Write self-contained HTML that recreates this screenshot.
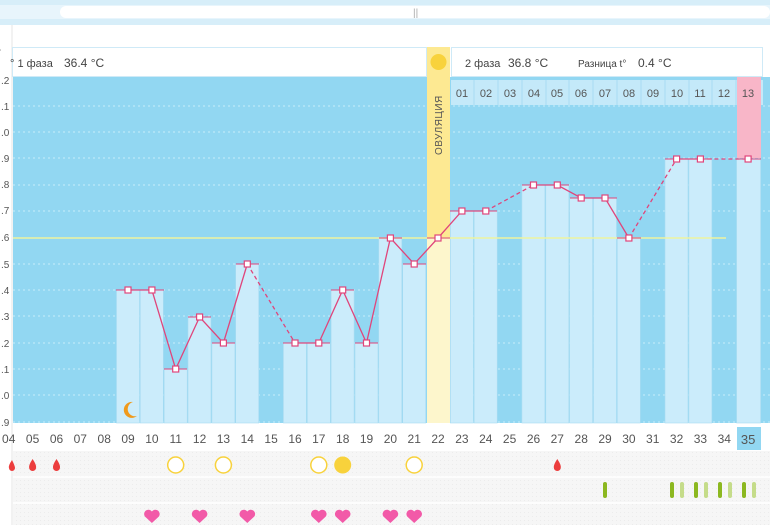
<!DOCTYPE html>
<html><head><meta charset="utf-8"><style>
body{margin:0;width:770px;height:525px;overflow:hidden;background:#fff;font-family:"Liberation Sans","DejaVu Sans",sans-serif}
svg text{font-family:"Liberation Sans","DejaVu Sans",sans-serif}
</style></head><body>
<svg width="770" height="525" xmlns="http://www.w3.org/2000/svg">
<defs>
<pattern id="gr" width="4" height="4" patternUnits="userSpaceOnUse"><rect width="4" height="4" fill="#f6f6f6"/><rect width="1" height="1" fill="#ececec"/></pattern>
</defs>
<!-- top scrollbar area -->
<rect x="0" y="0" width="770" height="25" fill="#d7eef9"/>
<rect x="0" y="5" width="770" height="14" fill="#e8f5fc"/>
<rect x="60" y="6" width="710" height="12" rx="6" fill="#fff"/>
<text x="413" y="16" font-size="10" fill="#aaa">||</text>
<rect x="0" y="25" width="12" height="500" fill="#fff"/>
<line x1="12" y1="25" x2="12" y2="525" stroke="#e4e4e4" stroke-width="1"/>
<!-- header boxes -->
<rect x="12.5" y="47.5" width="414" height="29" fill="#fff" stroke="#cfeaf7"/>
<text x="10" y="67" font-size="11" fill="#444">° 1 фаза</text>
<text x="64" y="67" font-size="12" fill="#444">36.4 °C</text>
<rect x="451.5" y="47.5" width="311" height="29" fill="#fff" stroke="#cfeaf7"/>
<text x="465" y="67" font-size="11" fill="#444">2 фаза</text>
<text x="508" y="67" font-size="12" fill="#444">36.8 °C</text>
<text x="578" y="67" font-size="10" fill="#444">Разница t°</text>
<text x="638" y="67" font-size="12" fill="#444">0.4 °C</text>
<!-- chart bg -->
<rect x="13" y="77" width="757" height="346" fill="#92d7f2"/>
<g stroke="#c8ecfa" stroke-width="1" stroke-dasharray="2,3">
<line x1="13" x2="770" y1="106" y2="106"/><line x1="13" x2="770" y1="132" y2="132"/><line x1="13" x2="770" y1="158" y2="158"/><line x1="13" x2="770" y1="185" y2="185"/><line x1="13" x2="770" y1="211" y2="211"/><line x1="13" x2="770" y1="264" y2="264"/><line x1="13" x2="770" y1="290" y2="290"/><line x1="13" x2="770" y1="316" y2="316"/><line x1="13" x2="770" y1="343" y2="343"/><line x1="13" x2="770" y1="369" y2="369"/><line x1="13" x2="770" y1="395" y2="395"/><line x1="13" x2="770" y1="422" y2="422"/>
</g>
<!-- y labels -->
<g font-size="10" fill="#555">
<text x="-3" y="56">°</text>
<text x="1" y="84">.2</text><text x="1" y="110">.1</text><text x="1" y="136">.0</text><text x="1" y="162">.9</text><text x="1" y="188">.8</text><text x="1" y="214">.7</text><text x="1" y="241">.6</text><text x="1" y="268">.5</text><text x="1" y="294">.4</text><text x="1" y="320">.3</text><text x="1" y="347">.2</text><text x="1" y="373">.1</text><text x="1" y="399">.0</text><text x="1" y="426">.9</text>
</g>
<!-- pink col 35 -->
<rect x="737" y="77" width="24" height="81" fill="#f8b6c8"/>
<!-- bars -->
<g fill="#cbecfb" stroke="#a9dcf2" stroke-width="0.6">
<rect x="116.5" y="290" width="23" height="133"/>
<rect x="140.3" y="290" width="23" height="133"/>
<rect x="164.2" y="369" width="23" height="54"/>
<rect x="188" y="317" width="23" height="106"/>
<rect x="211.9" y="343" width="23" height="80"/>
<rect x="235.7" y="264" width="23" height="159"/>
<rect x="283.4" y="343" width="23" height="80"/>
<rect x="307.3" y="343" width="23" height="80"/>
<rect x="331.1" y="290" width="23" height="133"/>
<rect x="355" y="343" width="23" height="80"/>
<rect x="378.8" y="238" width="23" height="185"/>
<rect x="402.7" y="264" width="23" height="159"/>
<rect x="450.4" y="211" width="23" height="212"/>
<rect x="474.2" y="211" width="23" height="212"/>
<rect x="521.9" y="185" width="23" height="238"/>
<rect x="545.8" y="185" width="23" height="238"/>
<rect x="569.6" y="198" width="23" height="225"/>
<rect x="593.5" y="198" width="23" height="225"/>
<rect x="617.3" y="238" width="23" height="185"/>
<rect x="665" y="159" width="23" height="264"/>
<rect x="688.9" y="159" width="23" height="264"/>
<rect x="736.6" y="159" width="24" height="264"/>
</g>
<!-- phase2 day numbers -->
<g>
<rect x="451" y="80" width="312" height="25" fill="#c4e9f9"/>
<g stroke="#a9dcf2"><line x1="474" x2="474" y1="80" y2="105"/><line x1="498" x2="498" y1="80" y2="105"/><line x1="522" x2="522" y1="80" y2="105"/><line x1="546" x2="546" y1="80" y2="105"/><line x1="569" x2="569" y1="80" y2="105"/><line x1="593" x2="593" y1="80" y2="105"/><line x1="617" x2="617" y1="80" y2="105"/><line x1="641" x2="641" y1="80" y2="105"/><line x1="665" x2="665" y1="80" y2="105"/><line x1="689" x2="689" y1="80" y2="105"/><line x1="712" x2="712" y1="80" y2="105"/><line x1="736" x2="736" y1="80" y2="105"/></g>
<rect x="737" y="80" width="24" height="25" fill="#f8b6c8"/>
<g font-size="11" fill="#555" text-anchor="middle">
<text x="462" y="97">01</text><text x="486" y="97">02</text><text x="510" y="97">03</text><text x="534" y="97">04</text><text x="557" y="97">05</text><text x="581" y="97">06</text><text x="605" y="97">07</text><text x="629" y="97">08</text><text x="653" y="97">09</text><text x="677" y="97">10</text><text x="700" y="97">11</text><text x="724" y="97">12</text><text x="748" y="97">13</text>
</g></g>
<!-- ovulation column -->
<rect x="427" y="47" width="23" height="191" fill="#fde992"/>
<rect x="427" y="238" width="23" height="185" fill="#fdf6cc"/>
<circle cx="438.5" cy="62" r="8" fill="#f8d23c"/>
<text transform="translate(442,155) rotate(-90)" font-size="10" fill="#555" letter-spacing="0.5">ОВУЛЯЦИЯ</text>
<!-- coverline -->
<line x1="13" x2="726" y1="238" y2="238" stroke="#eef3a0" stroke-width="1.5"/>
<!-- top lines of bars -->
<g stroke="#e0457b" stroke-width="1">
<line x1="116" x2="164" y1="290" y2="290"/><line x1="164" x2="187" y1="369" y2="369"/><line x1="188" x2="211" y1="317" y2="317"/><line x1="212" x2="235" y1="343" y2="343"/><line x1="236" x2="259" y1="264" y2="264"/><line x1="283" x2="330" y1="343" y2="343"/><line x1="331" x2="354" y1="290" y2="290"/><line x1="355" x2="378" y1="343" y2="343"/><line x1="379" x2="402" y1="238" y2="238"/><line x1="403" x2="426" y1="264" y2="264"/><line x1="427" x2="450" y1="238" y2="238"/><line x1="450" x2="497" y1="211" y2="211"/><line x1="522" x2="569" y1="185" y2="185"/><line x1="570" x2="617" y1="198" y2="198"/><line x1="617" x2="641" y1="238" y2="238"/><line x1="665" x2="712" y1="159" y2="159"/><line x1="737" x2="761" y1="159" y2="159"/>
</g>
<!-- series -->
<g fill="none" stroke="#e0457b" stroke-width="1.3">
<polyline points="128,290 151.9,290 175.7,369 199.6,317 223.4,343 247.3,264"/>
<polyline points="295,343 318.8,343 342.7,290 366.5,343 390.4,238 414.2,264 438,238 461.9,211 485.8,211"/>
<polyline points="533.5,185 557.3,185 581.2,198 605,198 628.9,238"/>
<polyline points="676.6,159 700.4,159"/>
</g>
<g fill="none" stroke="#e0457b" stroke-width="1.3" stroke-dasharray="4,3">
<line x1="247.3" y1="264" x2="295" y2="343"/><line x1="485.8" y1="211" x2="533.5" y2="185"/><line x1="628.9" y1="238" x2="676.6" y2="159"/><line x1="700.4" y1="159" x2="748.1" y2="159"/>
</g>
<g fill="#fff" stroke="#e0457b" stroke-width="1.2">
<rect x="125" y="287" width="6" height="6"/><rect x="148.9" y="287" width="6" height="6"/><rect x="172.7" y="366" width="6" height="6"/><rect x="196.6" y="314" width="6" height="6"/><rect x="220.4" y="340" width="6" height="6"/><rect x="244.3" y="261" width="6" height="6"/><rect x="292" y="340" width="6" height="6"/><rect x="315.8" y="340" width="6" height="6"/><rect x="339.7" y="287" width="6" height="6"/><rect x="363.5" y="340" width="6" height="6"/><rect x="387.4" y="235" width="6" height="6"/><rect x="411.2" y="261" width="6" height="6"/><rect x="435" y="235" width="6" height="6"/><rect x="458.9" y="208" width="6" height="6"/><rect x="482.8" y="208" width="6" height="6"/><rect x="530.5" y="182" width="6" height="6"/><rect x="554.3" y="182" width="6" height="6"/><rect x="578.2" y="195" width="6" height="6"/><rect x="602" y="195" width="6" height="6"/><rect x="625.9" y="235" width="6" height="6"/><rect x="673.6" y="156" width="6" height="6"/><rect x="697.4" y="156" width="6" height="6"/><rect x="745.1" y="156" width="6" height="6"/>
</g>
<!-- moon -->
<path d="M133 402 a8 8 0 1 0 4 14 a6.5 6.5 0 1 1 -4 -14z" fill="#f09a1c"/>
<!-- bottom area -->
<rect x="13" y="451" width="757" height="74" fill="url(#gr)"/>
<g stroke="#fff" stroke-width="1.5">
<line x1="13" x2="770" y1="477" y2="477"/><line x1="13" x2="770" y1="503" y2="503"/>
</g>
<rect x="737" y="427" width="24" height="23" fill="#92d7f2"/>
<g font-size="12" fill="#555" text-anchor="middle">
<text x="8.7" y="443">04</text><text x="32.6" y="443">05</text><text x="56.5" y="443">06</text><text x="80.3" y="443">07</text><text x="104.2" y="443">08</text><text x="128" y="443">09</text><text x="151.9" y="443">10</text><text x="175.7" y="443">11</text><text x="199.6" y="443">12</text><text x="223.4" y="443">13</text><text x="247.3" y="443">14</text><text x="271.1" y="443">15</text><text x="295" y="443">16</text><text x="318.8" y="443">17</text><text x="342.7" y="443">18</text><text x="366.5" y="443">19</text><text x="390.4" y="443">20</text><text x="414.2" y="443">21</text><text x="438" y="443">22</text><text x="461.9" y="443">23</text><text x="485.8" y="443">24</text><text x="509.6" y="443">25</text><text x="533.5" y="443">26</text><text x="557.3" y="443">27</text><text x="581.2" y="443">28</text><text x="605" y="443">29</text><text x="628.9" y="443">30</text><text x="652.7" y="443">31</text><text x="676.6" y="443">32</text><text x="700.4" y="443">33</text><text x="724.3" y="443">34</text><text x="748.1" y="444" font-size="13">35</text>
</g>
<!-- drops -->
<g fill="#ec3d3d">
<path d="M12 460 q-4 6 -3 8 a3 3 0 0 0 6 0 q0 -2 -3 -8z"/>
<path d="M32.6 459 q-4 6 -3.5 8.5 a3.5 3.5 0 0 0 7 0 q0.5 -2.5 -3.5 -8.5z"/>
<path d="M56.5 459 q-4 6 -3.5 8.5 a3.5 3.5 0 0 0 7 0 q0.5 -2.5 -3.5 -8.5z"/>
<path d="M557.3 459 q-4 6 -3.5 8.5 a3.5 3.5 0 0 0 7 0 q0.5 -2.5 -3.5 -8.5z"/>
</g>
<g fill="#fff" stroke="#f8d23c" stroke-width="1.5">
<circle cx="175.7" cy="465" r="8"/><circle cx="223.4" cy="465" r="8"/><circle cx="318.8" cy="465" r="8"/><circle cx="414.2" cy="465" r="8"/>
</g>
<circle cx="342.7" cy="465" r="8.5" fill="#f8d23c"/>
<!-- green bars -->
<g stroke-linecap="round" stroke-width="4">
<line x1="605" x2="605" y1="484" y2="496" stroke="#8cb820"/>
<line x1="672" x2="672" y1="484" y2="496" stroke="#8cb820"/><line x1="682" x2="682" y1="484" y2="496" stroke="#c5dc8a"/>
<line x1="696" x2="696" y1="484" y2="496" stroke="#8cb820"/><line x1="706" x2="706" y1="484" y2="496" stroke="#c5dc8a"/>
<line x1="720" x2="720" y1="484" y2="496" stroke="#8cb820"/><line x1="730" x2="730" y1="484" y2="496" stroke="#c5dc8a"/>
<line x1="744" x2="744" y1="484" y2="496" stroke="#8cb820"/><line x1="754" x2="754" y1="484" y2="496" stroke="#c5dc8a"/>
</g>
<!-- hearts -->
<g fill="#f25aa8">
<path id="h" d="M151.9 523 l-7 -6.5 a4 4 0 0 1 7 -5 a4 4 0 0 1 7 5z"/>
<path d="M199.6 523 l-7 -6.5 a4 4 0 0 1 7 -5 a4 4 0 0 1 7 5z"/>
<path d="M247.3 523 l-7 -6.5 a4 4 0 0 1 7 -5 a4 4 0 0 1 7 5z"/>
<path d="M318.8 523 l-7 -6.5 a4 4 0 0 1 7 -5 a4 4 0 0 1 7 5z"/>
<path d="M342.7 523 l-7 -6.5 a4 4 0 0 1 7 -5 a4 4 0 0 1 7 5z"/>
<path d="M390.4 523 l-7 -6.5 a4 4 0 0 1 7 -5 a4 4 0 0 1 7 5z"/>
<path d="M414.2 523 l-7 -6.5 a4 4 0 0 1 7 -5 a4 4 0 0 1 7 5z"/>
</g>
</svg>
</body></html>
